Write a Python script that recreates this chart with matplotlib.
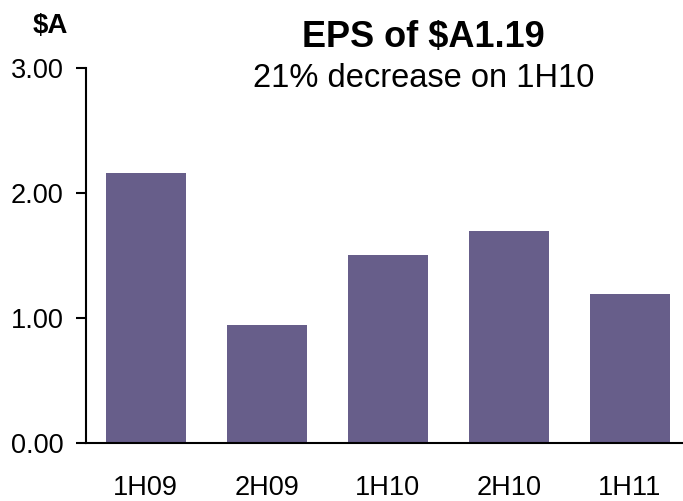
import matplotlib
matplotlib.use("Agg")
import matplotlib.pyplot as plt

# Half-year earnings per share ($A)
periodos = ["1H09", "2H09", "1H10", "2H10", "1H11"]
eps = [2.16, 0.94, 1.50, 1.69, 1.19]
ticks_y = [0.0, 1.0, 2.0, 3.0]

plt.rcParams["font.family"] = ["Liberation Sans", "DejaVu Sans"]

fig = plt.figure(figsize=(6.83, 5.01), dpi=100)
ax = fig.add_axes([0.1266, 0.1164, 0.8734, 0.7485])

x = range(len(periodos))
ax.bar(x, eps, width=0.66, color="#675e8a", edgecolor="none")

ax.set_xlim(-0.49, 4.44)
ax.set_ylim(0, 3)
ax.set_yticks(ticks_y)
ax.set_yticklabels([f"{v:.2f}" for v in ticks_y])
ax.set_xticks(list(x))
ax.set_xticklabels(periodos)

for lado in ["top", "right"]:
    ax.spines[lado].set_visible(False)
for lado in ["left", "bottom"]:
    ax.spines[lado].set_linewidth(1.5)
    ax.spines[lado].set_color("black")

ax.tick_params(axis="y", direction="out", length=7.5, width=1.5,
               labelsize=19.5, pad=9)
ax.tick_params(axis="x", length=0, labelsize=19.5, pad=23)

# unidad encima del eje y
fig.text(50 / 683, 1 - 33 / 501, "$A", ha="center", va="baseline",
         fontsize=20, fontweight="bold")

# titulo y subtitulo
fig.text(423 / 683, 1 - 47 / 501, "EPS of $A1.19", ha="center",
         va="baseline", fontsize=26, fontweight="bold")
fig.text(424 / 683, 1 - 87 / 501, "21% decrease on 1H10", ha="center",
         va="baseline", fontsize=23.5)

fig.savefig("out.png", dpi=100)
